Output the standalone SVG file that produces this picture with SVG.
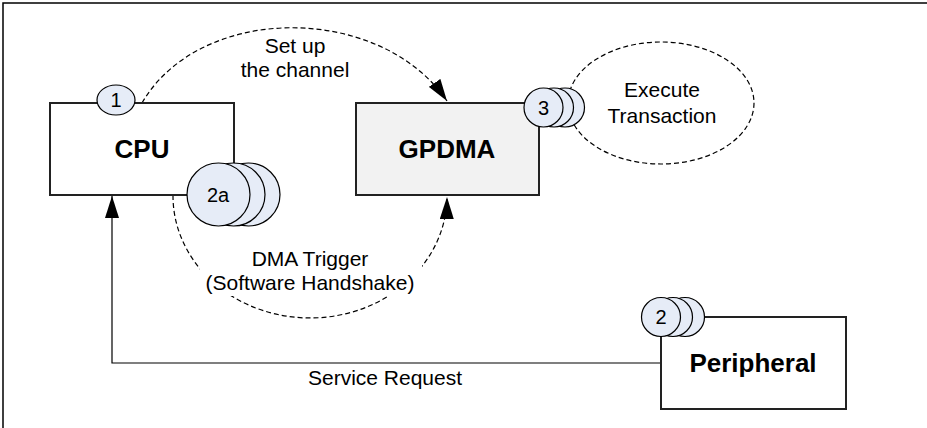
<svg xmlns="http://www.w3.org/2000/svg" width="927" height="428" viewBox="0 0 927 428">
<defs>
<style>
.box{stroke:#222;stroke-width:2}
.bold{font-family:"Liberation Sans",Arial,sans-serif;font-weight:bold;font-size:26px;text-anchor:middle;fill:#000}
.lbl{font-family:"Liberation Sans",Arial,sans-serif;font-size:21px;text-anchor:middle;fill:#000}
.num{font-family:"Liberation Sans",Arial,sans-serif;font-size:20px;text-anchor:middle;fill:#000}
.bub{fill:#e6ecf7;stroke:#000;stroke-width:1.2}
.dash{fill:none;stroke:#000;stroke-width:1.2;stroke-dasharray:5,3}
.solid{fill:none;stroke:#000;stroke-width:1.2}
</style>
<marker id="arr" markerUnits="userSpaceOnUse" markerWidth="22" markerHeight="14" refX="22" refY="7" orient="auto">
<path d="M0,0 L22,7 L0,14 z" fill="#000"/>
</marker>
</defs>
<rect x="3" y="3" width="940" height="440" fill="#fff" stroke="#000" stroke-width="1.5"/>

<g id="connectors">
<path class="dash" d="M142,103 C200,3 380,3 447,101" marker-end="url(#arr)"/>
<path class="dash" d="M173,195 A137,122 0 0 0 447,197" marker-end="url(#arr)"/>
<path class="solid" d="M661,363 H112 V196" marker-end="url(#arr)"/>
<ellipse class="dash" cx="661" cy="103" rx="93" ry="61"/>
</g>

<g id="labels">
<text class="lbl" x="295" y="53">Set up</text>
<text class="lbl" x="295" y="77">the channel</text>
<rect x="200" y="246" width="222" height="50" fill="#fff"/>
<text class="lbl" x="310" y="266">DMA Trigger</text>
<text class="lbl" x="310" y="290">(Software Handshake)</text>
<text class="lbl" x="385" y="385">Service Request</text>
<text class="lbl" x="662" y="97">Execute</text>
<text class="lbl" x="662" y="123">Transaction</text>
</g>

<g id="cpu">
<rect class="box" x="50" y="103" width="184" height="92" fill="#fff"/>
<text class="bold" x="142" y="158">CPU</text>
</g>

<g id="gpdma">
<rect class="box" x="356" y="103" width="183" height="92" fill="#f2f2f2"/>
<text class="bold" x="447" y="158">GPDMA</text>
</g>

<g id="peripheral">
<rect class="box" x="661" y="317" width="185" height="92" fill="#fff"/>
<text class="bold" x="753" y="372">Peripheral</text>
</g>

<g id="step1">
<ellipse class="bub" cx="116" cy="100" rx="19" ry="15"/>
<text class="num" x="116" y="107">1</text>
</g>

<g id="step2a">
<circle class="bub" cx="248.5" cy="194.5" r="31.5"/>
<circle class="bub" cx="233.5" cy="194.5" r="31.5"/>
<circle class="bub" cx="218.5" cy="194.5" r="31.5"/>
<text class="num" x="218" y="202">2a</text>
</g>

<g id="step3">
<circle class="bub" cx="565" cy="107.5" r="19.5"/>
<circle class="bub" cx="554" cy="107.5" r="19.5"/>
<circle class="bub" cx="543.5" cy="107.5" r="19.5"/>
<text class="num" x="543.5" y="115">3</text>
</g>

<g id="step2">
<circle class="bub" cx="685" cy="317" r="19.5"/>
<circle class="bub" cx="673" cy="317" r="19.5"/>
<circle class="bub" cx="661" cy="317" r="19.5"/>
<text class="num" x="661" y="324">2</text>
</g>
</svg>
